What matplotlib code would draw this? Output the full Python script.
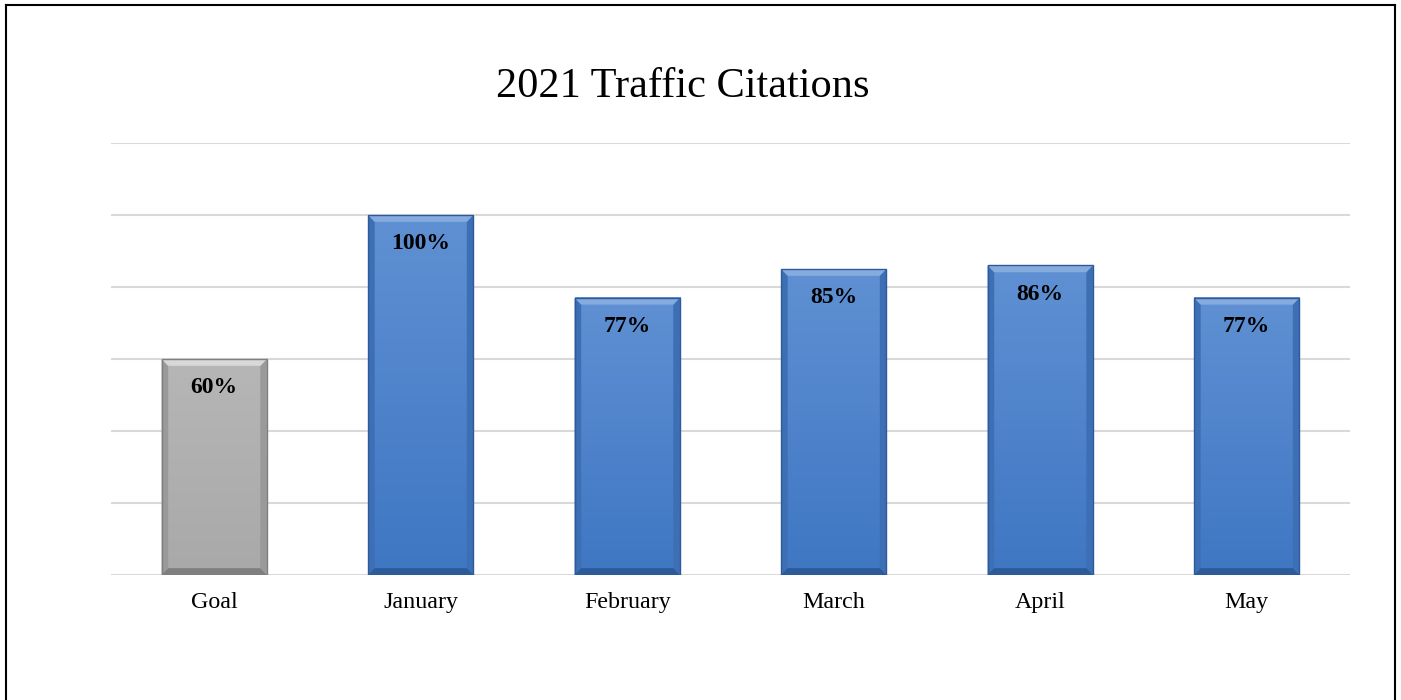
import matplotlib
matplotlib.use("Agg")
import numpy as np
import matplotlib.pyplot as plt
from matplotlib.patches import Polygon
from matplotlib.lines import Line2D
from matplotlib.colors import LinearSegmentedColormap

plt.rcParams["font.family"] = ["Liberation Serif", "DejaVu Serif"]

categories = ["Goal", "January", "February", "March", "April", "May"]
values = [0.60, 1.00, 0.77, 0.85, 0.86, 0.77]
labels = ["60%", "100%", "77%", "85%", "86%", "77%"]

# face top, face bottom, top bevel, side bevel, bottom bevel
grey = ("#b6b6b6", "#a9a9a9", "#d8d8d8", "#9a9a9a", "#7f7f7f")
blue = ("#5f90d3", "#3f77c3", "#86abdf", "#3d6fb5", "#2d5a98")
styles = [grey] + [blue] * 5

fig = plt.figure(figsize=(14.01, 7.00), dpi=100)
ax = fig.add_axes([111 / 1401, 1 - 575 / 700, (1350 - 111) / 1401, (575 - 143) / 700])

x = list(range(len(categories)))
bars = ax.bar(x, values, width=0.51, color=[s[1] for s in styles], zorder=3)

# gradient face + simple bevel drawn over each bar
bx = 0.032
by = 0.019
grad = np.linspace(1, 0, 64).reshape(-1, 1)
for b, s in zip(bars, styles):
    x0, w, h = b.get_x(), b.get_width(), b.get_height()
    x1 = x0 + w
    cmap = LinearSegmentedColormap.from_list("f", [s[1], s[0]])
    ax.imshow(grad, extent=[x0, x1, 0, h], cmap=cmap, aspect="auto",
              origin="upper", zorder=3.5, interpolation="bilinear")
    top = [(x0, h), (x1, h), (x1 - bx, h - by), (x0 + bx, h - by)]
    bot = [(x0, 0), (x1, 0), (x1 - bx, by), (x0 + bx, by)]
    left = [(x0, 0), (x0, h), (x0 + bx, h - by), (x0 + bx, by)]
    right = [(x1, 0), (x1, h), (x1 - bx, h - by), (x1 - bx, by)]
    for pts, c in [(left, s[3]), (right, s[3]), (bot, s[4]), (top, s[2])]:
        ax.add_patch(Polygon(pts, closed=True, facecolor=c, edgecolor="none", zorder=4))
    ax.add_patch(Polygon([(x0, 0), (x0, h), (x1, h), (x1, 0)], closed=True,
                         facecolor="none", edgecolor=s[4], linewidth=1.0, zorder=5))

for b, lab in zip(bars, labels):
    ax.text(b.get_x() + b.get_width() / 2, b.get_height() - 0.08, lab,
            ha="center", va="center", fontsize=17, fontweight="bold",
            color="black", zorder=6)

ax.set_ylim(0, 1.2)
ax.set_xlim(-0.5, len(categories) - 0.5)
ax.set_yticks([0.2 * i for i in range(7)])
ax.yaxis.grid(True, color="#d9d9d9", linewidth=1.5, zorder=0)
ax.set_yticklabels([])
ax.tick_params(axis="y", length=0)
ax.tick_params(axis="x", length=0, pad=12, labelsize=17.3)
ax.set_xticks(x)
ax.set_xticklabels(categories)
for sp in ax.spines.values():
    sp.set_visible(False)

fig.text(0.487, 1 - 97 / 700, "2021 Traffic Citations", ha="center", va="baseline",
         fontsize=30.5)

# outer frame (bottom edge falls outside the picture)
for xs, ys in [([6 / 1401, 6 / 1401], [-0.1, 1 - 5 / 700]),
               ([6 / 1401, 1395 / 1401], [1 - 5 / 700, 1 - 5 / 700]),
               ([1395 / 1401, 1395 / 1401], [-0.1, 1 - 5 / 700])]:
    fig.add_artist(Line2D(xs, ys, color="black", linewidth=1.5))

fig.savefig("out.png", dpi=100)
